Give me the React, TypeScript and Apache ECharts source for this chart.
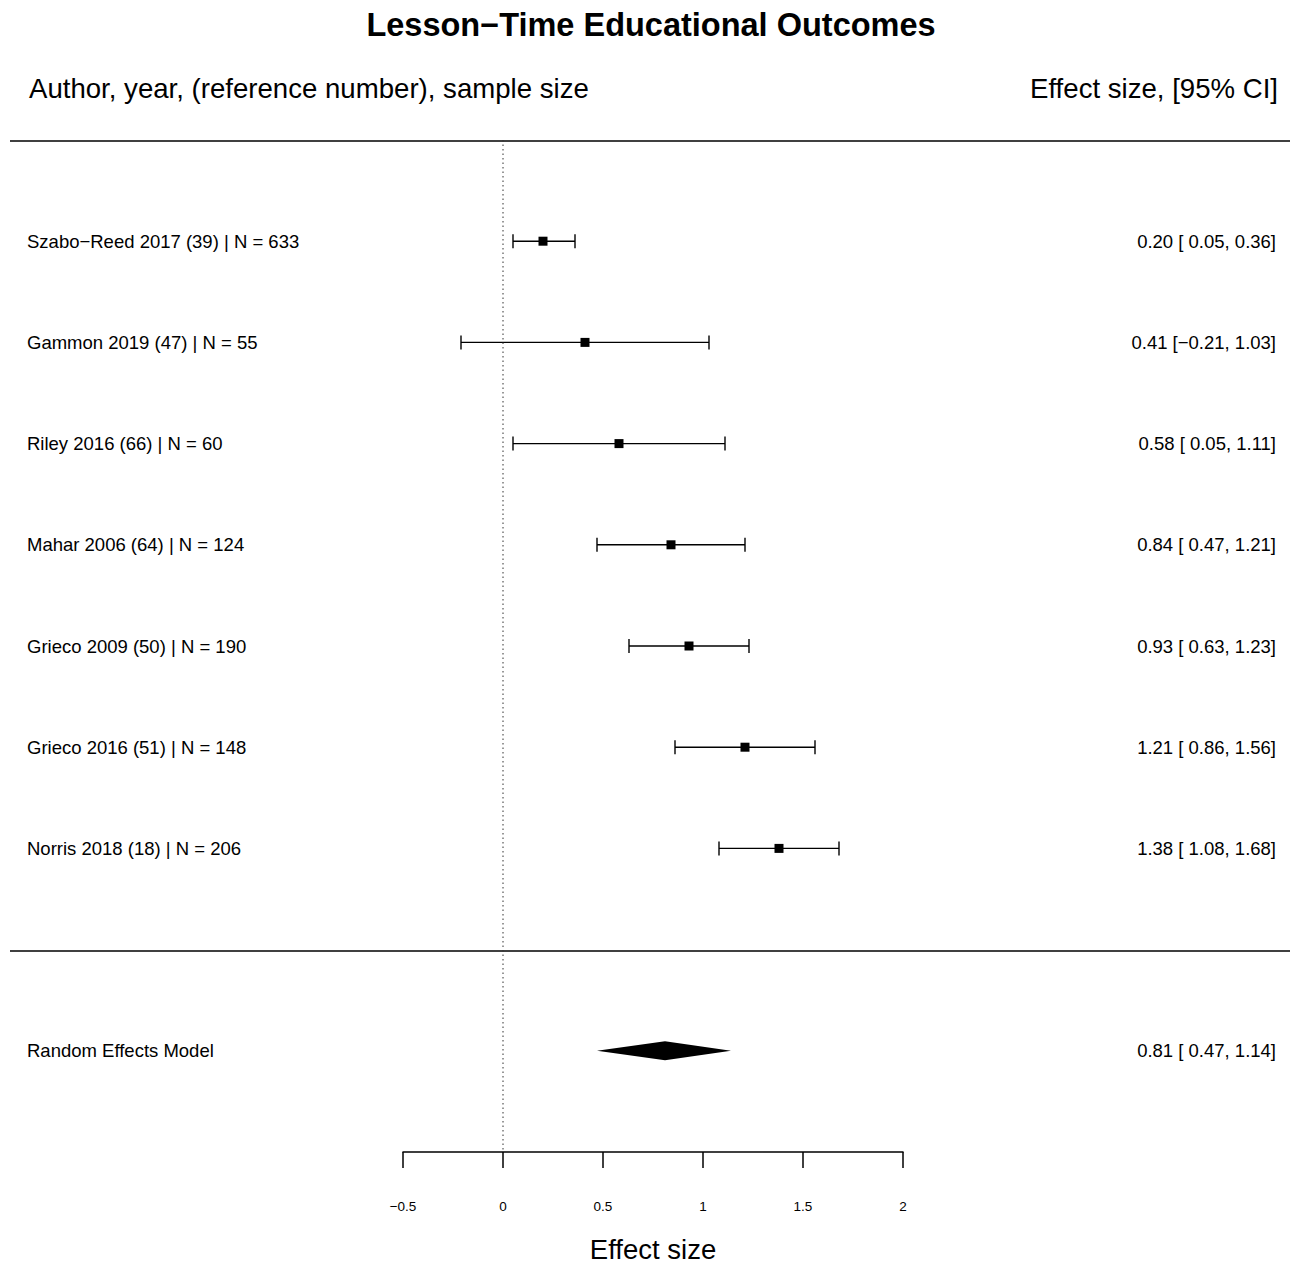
import React, { useEffect, useRef } from "react";
import * as echarts from "echarts";

const studyLabels = [
  "Szabo\u2212Reed 2017 (39) | N = 633",
  "Gammon 2019 (47) | N = 55",
  "Riley 2016 (66) | N = 60",
  "Mahar 2006 (64) | N = 124",
  "Grieco 2009 (50) | N = 190",
  "Grieco 2016 (51) | N = 148",
  "Norris 2018 (18) | N = 206",
];
const estimates = [0.2, 0.41, 0.58, 0.84, 0.93, 1.21, 1.38];
const lowerCI = [0.05, -0.21, 0.05, 0.47, 0.63, 0.86, 1.08];
const upperCI = [0.36, 1.03, 1.11, 1.21, 1.23, 1.56, 1.68];
const modelLabel = "Random Effects Model";
const modelEstimate = [0.81];
const modelLower = [0.47];
const modelUpper = [1.14];
const modelRow = 8;
const xTicks = [-0.5, 0, 0.5, 1, 1.5, 2];

const FONT = "'Liberation Sans', Arial, Helvetica, sans-serif";
const minus = (s: string) => s.replace("-", "\u2212");
const fmtLow = (v: number) => (v < 0 ? minus(v.toFixed(2)) : " " + v.toFixed(2));
const ciText = (e: number, l: number, u: number) =>
  `${e.toFixed(2)} [${fmtLow(l)}, ${minus(u.toFixed(2))}]`;

export default function App() {
  const ref = useRef<HTMLDivElement>(null);
  useEffect(() => {
    if (!ref.current) return;
    const chart = echarts.init(ref.current, null, { renderer: "svg" });
    const studyData = estimates.map((e, i) => [e, lowerCI[i], upperCI[i], i, studyLabels[i]]);
    const modelData = modelEstimate.map((e, i) => [e, modelLower[i], modelUpper[i], modelRow, modelLabel]);

    const labelChildren = (y: number, label: string, e: number, l: number, u: number) => [
      {
        type: "text",
        style: { x: 27, y, text: label, fill: "#000", font: `18.5px ${FONT}`, textAlign: "left", textVerticalAlign: "middle" },
      },
      {
        type: "text",
        style: { x: 1276, y, text: ciText(e, l, u), fill: "#000", font: `18.5px ${FONT}`, textAlign: "right", textVerticalAlign: "middle" },
      },
    ];

    chart.setOption({
      animation: false,
      grid: { left: 403, width: 500, top: 140, height: 1012, outerBoundsMode: "none", containLabel: false },
      xAxis: {
        type: "value",
        min: -0.5,
        max: 2,
        interval: 0.5,
        splitLine: { show: false },
        axisLine: { show: true, onZero: false, lineStyle: { color: "#000", width: 1.5 } },
        axisTick: { show: true, length: 16, lineStyle: { color: "#000", width: 1.5 } },
        axisLabel: {
          margin: 47,
          fontSize: 13.5,
          color: "#000",
          fontFamily: FONT,
          customValues: xTicks,
          formatter: (v: number) => minus(String(v)),
        },
        name: "Effect size",
        nameLocation: "middle",
        nameGap: 83,
        nameTextStyle: { fontSize: 27.5, color: "#000", fontFamily: FONT },
      },
      yAxis: { type: "value", inverse: true, min: -1, max: 9, show: false },
      graphic: [
        {
          type: "text",
          style: { x: 651, y: 25, text: "Lesson\u2212Time Educational Outcomes", fill: "#000", font: `bold 32.5px ${FONT}`, textAlign: "center", textVerticalAlign: "middle" },
        },
        {
          type: "text",
          style: { x: 29, y: 88, text: "Author, year, (reference number), sample size", fill: "#000", font: `27.6px ${FONT}`, textAlign: "left", textVerticalAlign: "middle" },
        },
        {
          type: "text",
          style: { x: 1278, y: 88, text: "Effect size, [95% CI]", fill: "#000", font: `27.6px ${FONT}`, textAlign: "right", textVerticalAlign: "middle" },
        },
        { type: "line", shape: { x1: 10, y1: 141, x2: 1290, y2: 141 }, style: { stroke: "#000", lineWidth: 1.5 } },
        { type: "line", shape: { x1: 10, y1: 951, x2: 1290, y2: 951 }, style: { stroke: "#000", lineWidth: 1.5 } },
      ],
      series: [
        {
          type: "line",
          data: [[0, -1], [0, 9]],
          symbol: "none",
          silent: true,
          lineStyle: { color: "#333", width: 1, type: [1.5, 3] },
        },
        {
          type: "custom",
          data: studyData,
          silent: true,
          renderItem: (params: any, api: any) => {
            const e = api.value(0), l = api.value(1), u = api.value(2), r = api.value(3);
            const [xe, y] = api.coord([e, r]);
            const xl = api.coord([l, r])[0];
            const xu = api.coord([u, r])[0];
            const st = { stroke: "#000", lineWidth: 1.4 };
            const s = 4.5;
            return {
              type: "group",
              children: [
                { type: "line", shape: { x1: xl, y1: y, x2: xu, y2: y }, style: st },
                { type: "line", shape: { x1: xl, y1: y - 7, x2: xl, y2: y + 7 }, style: st },
                { type: "line", shape: { x1: xu, y1: y - 7, x2: xu, y2: y + 7 }, style: st },
                { type: "rect", shape: { x: xe - s, y: y - s, width: 2 * s, height: 2 * s }, style: { fill: "#000" } },
                ...labelChildren(y, studyLabels[params.dataIndex], e, l, u),
              ],
            };
          },
        },
        {
          type: "custom",
          data: modelData,
          silent: true,
          renderItem: (params: any, api: any) => {
            const e = api.value(0), l = api.value(1), u = api.value(2), r = api.value(3);
            const [xe, y] = api.coord([e, r]);
            const xl = api.coord([l, r])[0];
            const xu = api.coord([u, r])[0];
            return {
              type: "group",
              children: [
                {
                  type: "polygon",
                  shape: { points: [[xl, y], [xe, y - 9.5], [xu, y], [xe, y + 9.5]] },
                  style: { fill: "#000" },
                },
                ...labelChildren(y, modelLabel, e, l, u),
              ],
            };
          },
        },
      ],
    });
    return () => chart.dispose();
  }, []);
  return <div ref={ref} style={{ position: "absolute", left: 0, top: 0, width: 1290, height: 1263, background: "#fff" }} />;
}
